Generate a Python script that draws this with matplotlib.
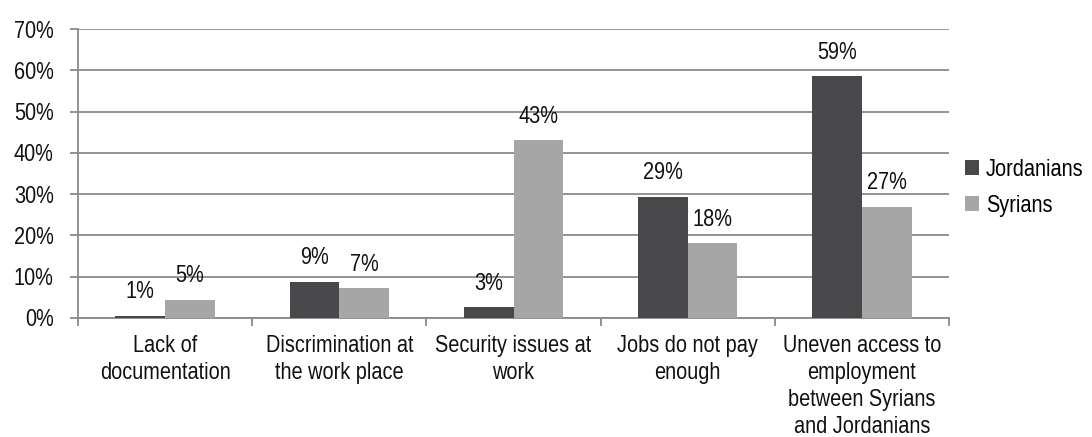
import os
import matplotlib
matplotlib.use("Agg")
import matplotlib.pyplot as plt
import numpy as np
from matplotlib import font_manager
from matplotlib.font_manager import FontProperties
from matplotlib.ticker import FixedLocator, NullFormatter
from matplotlib.patheffects import AbstractPathEffect
from matplotlib.path import Path
from matplotlib.transforms import Affine2D

categories = ["Lack of\ndocumentation", "Discrimination at\nthe work place",
              "Security issues at\nwork", "Jobs do not pay\nenough",
              "Uneven access to\nemployment\nbetween Syrians\nand Jordanians"]
jordanians = [0.5, 8.7, 2.6, 29.4, 58.5]
syrians = [4.4, 7.2, 43.0, 18.1, 26.9]
jord_labels = ["1%", "9%", "3%", "29%", "59%"]
syr_labels = ["5%", "7%", "43%", "18%", "27%"]
series_names = ["Jordanians", "Syrians"]
yticks = [0, 10, 20, 30, 40, 50, 60, 70]

SX = 0.82          # horizontal squeeze, like Arial Narrow
NARROW = "LibNarrowX"


def build_narrow_font():
    """Derive a narrow variant of Liberation Sans (no Narrow font is installed)."""
    from fontTools.ttLib import TTFont
    src = font_manager.findfont(FontProperties(family="Liberation Sans"),
                                fallback_to_default=False)
    f = TTFont(src)
    glyf = f["glyf"]
    hmtx = f["hmtx"]
    for name in f.getGlyphOrder():
        g = glyf[name]
        if g.isComposite():
            for c in g.components:
                c.x = int(round(c.x * SX))
        elif g.numberOfContours > 0:
            g.coordinates.scale((SX, 1))
            g.coordinates.toInt()
            g.program = None
            from fontTools.ttLib.tables import ttProgram
            g.program = ttProgram.Program()
            g.program.fromBytecode(b"")
        adv, lsb = hmtx[name]
        hmtx[name] = (int(round(adv * SX)), int(round(lsb * SX)))
    for tag in ("hdmx", "VDMX", "LTSH", "fpgm", "prep", "cvt ", "GPOS", "GSUB", "gasp"):
        if tag in f:
            del f[tag]
    if "kern" in f:
        for kt in f["kern"].kernTables:
            for k in list(kt.kernTable.keys()):
                kt.kernTable[k] = int(round(kt.kernTable[k] * SX))
    for rec in f["name"].names:
        if rec.nameID in (1, 16):
            rec.string = NARROW
        elif rec.nameID == 4:
            rec.string = NARROW
        elif rec.nameID == 6:
            rec.string = NARROW
    out = os.path.abspath("LibNarrowX.ttf")
    f.save(out)
    font_manager.fontManager.addfont(out)
    font_manager.findfont(FontProperties(family=NARROW), fallback_to_default=False)


try:
    build_narrow_font()
    NARROW_OK = True
    plt.rcParams['font.family'] = [NARROW, 'Liberation Sans', 'DejaVu Sans']
except Exception:
    NARROW_OK = False
    plt.rcParams['font.family'] = ['Liberation Sans', 'DejaVu Sans']


class Condense(AbstractPathEffect):
    """Fallback: narrow the glyphs at draw time."""
    def __init__(self, sx=0.82, anchor="center"):
        super().__init__()
        self.sx = sx
        self.anchor = anchor

    def draw_path(self, renderer, gc, tpath, affine, rgbFace=None):
        v = tpath.vertices
        if tpath.codes is not None:
            v = v[tpath.codes != Path.CLOSEPOLY]
        xmin, xmax = (v[:, 0].min(), v[:, 0].max()) if len(v) else (0.0, 0.0)
        x0 = {"left": 0.0, "right": xmax}.get(self.anchor, (xmin + xmax) / 2)
        t = Affine2D().translate(-x0, 0).scale(self.sx, 1).translate(x0, 0)
        renderer.draw_path(gc, tpath, t + affine, rgbFace)


def narrow(text, anchor):
    if not NARROW_OK:
        text.set_path_effects([Condense(SX, anchor)])


dark = "#48484a"
light = "#a6a6a6"
grid_c = "#8a8a8a"
txt_c = "#111111"
fs = 17.5

fig = plt.figure(figsize=(10.92, 4.37), dpi=100)
ax = fig.add_axes([78/1092, 1-318/437, (949-78)/1092, (318-29)/437])

x = np.arange(len(categories))
w = 0.285
b1 = ax.bar(x - w/2, jordanians, w, color=dark, label=series_names[0], zorder=3)
b2 = ax.bar(x + w/2, syrians, w, color=light, label=series_names[1], zorder=3)

for bars, labels in ((b1, jord_labels), (b2, syr_labels)):
    for rect, lab in zip(bars, labels):
        a = ax.annotate(lab, (rect.get_x() + rect.get_width()/2, rect.get_height()),
                        xytext=(0, 12.7), textcoords="offset points", ha="center",
                        va="baseline", fontsize=fs, color=txt_c)
        narrow(a, "center")

ax.set_xlim(-0.5, len(categories) - 0.5)
ax.set_ylim(0, 70)
ax.set_yticks(yticks)
ax.set_yticklabels([f"{t}%" for t in yticks], fontsize=fs, color=txt_c)
for t in ax.get_yticklabels():
    narrow(t, "right")
ax.yaxis.grid(True, color=grid_c, linewidth=1.3, zorder=0)
ax.set_axisbelow(True)

# category boundaries as ticks, labels at centres
ax.xaxis.set_major_locator(FixedLocator(np.arange(len(categories) + 1) - 0.5))
ax.xaxis.set_major_formatter(NullFormatter())
ax.xaxis.set_minor_locator(FixedLocator(x))
ax.set_xticklabels(categories, minor=True, fontsize=fs, color=txt_c, linespacing=1.3)
for t in ax.get_xticklabels(minor=True):
    narrow(t, "center")
ax.tick_params(axis="x", which="minor", length=0, pad=12)
ax.tick_params(axis="x", which="major", length=6, width=1.3, color=grid_c, direction="out")
ax.tick_params(axis="y", length=6, width=1.3, color=grid_c, pad=11.5)

for s in ["top", "right"]:
    ax.spines[s].set_visible(False)
for s in ["left", "bottom"]:
    ax.spines[s].set_color(grid_c)
    ax.spines[s].set_linewidth(1.3)

leg = fig.legend(handles=[b1, b2], labels=series_names, loc="center left",
                 bbox_to_anchor=(965/1092, 1-188/437), frameon=False, fontsize=fs,
                 handlelength=0.58, handleheight=0.58, handletextpad=0.29,
                 labelspacing=0.55, borderpad=0, borderaxespad=0)
for t in leg.get_texts():
    narrow(t, "left")

fig.savefig("out.png", dpi=100)
